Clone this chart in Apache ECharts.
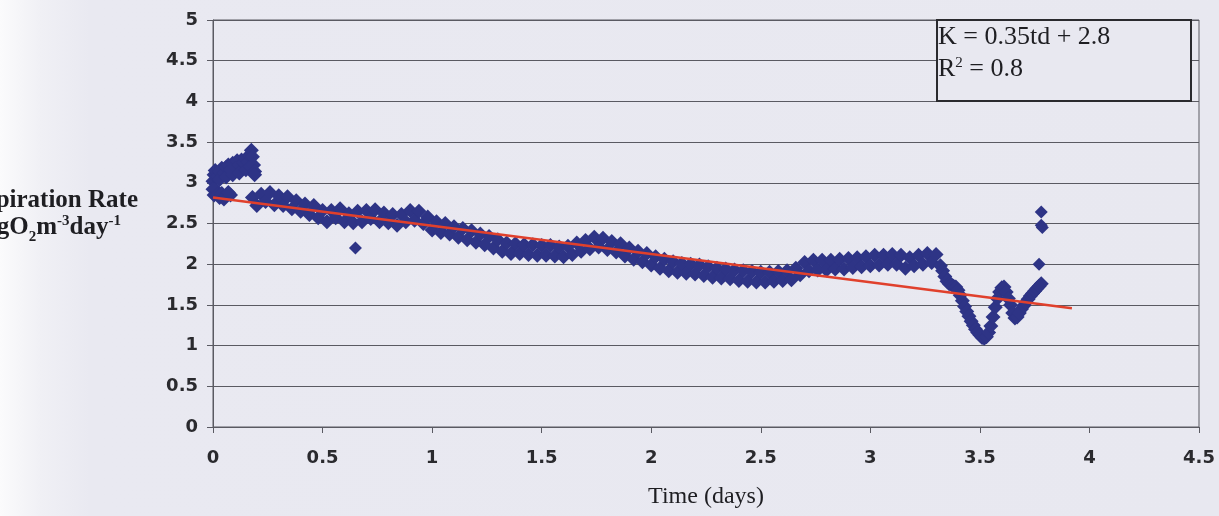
<!DOCTYPE html>
<html>
<head>
<meta charset="utf-8">
<script src="https://cdn.jsdelivr.net/npm/echarts@6/dist/echarts.min.js"></script>
<style>
html,body{margin:0;padding:0;width:1219px;height:516px;overflow:hidden;
background:linear-gradient(to right,#fbfbfc 0px,#f0f0f5 40px,#e9e9f1 90px,#e8e8f0 100%);}
#chart{width:1219px;height:516px;}
</style>
</head>
<body>
<div id="chart"></div>
<script>
// ---- data ----
var xTicks = [0, 0.5, 1, 1.5, 2, 2.5, 3, 3.5, 4, 4.5];
var yTicks = [0, 0.5, 1, 1.5, 2, 2.5, 3, 3.5, 4, 4.5, 5];

// early cluster (t, K)
var earlyPts = [
 [0.00,3.02],[0.00,2.92],[0.005,3.10],[0.005,2.85],[0.01,3.15],[0.01,2.92],[0.02,3.08],[0.02,2.86],
 [0.03,3.14],[0.03,2.82],[0.03,3.04],[0.04,3.18],[0.04,2.87],[0.05,3.12],[0.05,2.80],[0.06,3.19],
 [0.06,3.07],[0.06,2.84],[0.07,3.22],[0.07,2.88],[0.08,3.16],[0.08,2.85],[0.09,3.24],[0.09,3.10],
 [0.10,3.20],[0.11,3.27],[0.12,3.22],[0.12,3.12],[0.13,3.28],[0.14,3.25],[0.15,3.30],[0.15,3.16],
 [0.16,3.26],[0.17,3.33],[0.17,3.20],[0.175,3.40],[0.18,3.32],[0.185,3.22],[0.19,3.14],[0.19,3.10]
];

// main band (t, K)
var mainPts = [
 [0.18,2.82],[0.20,2.72],[0.22,2.86],[0.24,2.77],[0.26,2.88],[0.28,2.73],[0.30,2.84],[0.32,2.72],
 [0.34,2.83],[0.36,2.68],[0.38,2.78],[0.40,2.65],[0.42,2.74],[0.44,2.61],[0.46,2.72],[0.48,2.57],
 [0.50,2.66],[0.52,2.52],[0.54,2.66],[0.56,2.57],[0.58,2.68],[0.60,2.52],[0.62,2.62],[0.64,2.51],
 [0.66,2.65],[0.68,2.52],[0.70,2.66],[0.72,2.56],[0.74,2.67],[0.76,2.52],[0.78,2.63],[0.80,2.51],
 [0.82,2.61],[0.84,2.48],[0.86,2.61],[0.88,2.52],[0.90,2.66],[0.92,2.54],[0.94,2.65],[0.96,2.50],
 [0.98,2.58],[1.00,2.42],[1.02,2.52],[1.04,2.39],[1.06,2.50],[1.08,2.37],[1.10,2.46],[1.12,2.33],
 [1.14,2.44],[1.16,2.30],[1.18,2.41],[1.20,2.27],[1.22,2.37],[1.24,2.24],[1.26,2.34],[1.28,2.20],
 [1.30,2.30],[1.32,2.16],[1.34,2.26],[1.36,2.13],[1.38,2.25],[1.40,2.13],[1.42,2.24],[1.44,2.12],
 [1.46,2.24],[1.48,2.11],[1.50,2.23],[1.52,2.11],[1.54,2.23],[1.56,2.10],[1.58,2.21],[1.60,2.09],
 [1.62,2.22],[1.64,2.12],[1.66,2.26],[1.68,2.16],[1.70,2.29],[1.72,2.19],[1.74,2.33],[1.76,2.21],
 [1.78,2.32],[1.80,2.18],[1.82,2.28],[1.84,2.15],[1.86,2.25],[1.88,2.10],[1.90,2.20],[1.92,2.06],
 [1.94,2.16],[1.96,2.03],[1.98,2.13],[2.00,1.99],[2.02,2.09],[2.04,1.95],[2.06,2.06],[2.08,1.92],
 [2.10,2.03],[2.12,1.90],[2.14,2.01],[2.16,1.89],[2.18,2.00],[2.20,1.88],[2.22,1.99],[2.24,1.86],
 [2.26,1.97],[2.28,1.84],[2.30,1.95],[2.32,1.83],[2.34,1.94],[2.36,1.82],[2.38,1.93],[2.40,1.80],
 [2.42,1.92],[2.44,1.79],[2.46,1.91],[2.48,1.78],[2.50,1.90],[2.52,1.78],[2.54,1.90],[2.56,1.79],
 [2.58,1.91],[2.60,1.80],[2.62,1.92],[2.64,1.81],[2.66,1.95],[2.68,1.87],[2.70,2.02],[2.72,1.92],
 [2.74,2.05],[2.76,1.93],[2.78,2.05],[2.80,1.93],[2.82,2.05],[2.84,1.94],[2.86,2.06],[2.88,1.94],
 [2.90,2.07],[2.92,1.96],[2.94,2.08],[2.96,1.97],[2.98,2.09],[3.00,1.98],[3.02,2.11],[3.04,1.99],
 [3.06,2.11],[3.08,2.00],[3.10,2.12],[3.12,2.00],[3.14,2.11],[3.16,1.95],[3.18,2.08],[3.20,1.98],
 [3.22,2.11],[3.24,2.00],[3.26,2.13],[3.28,2.02],[3.30,2.12],[3.32,1.98]
];

// final dip (t, K)
var dipPts = [
 [3.33,1.92],[3.34,1.85],[3.35,1.79],[3.36,1.76],[3.37,1.75],[3.38,1.73],[3.39,1.72],[3.40,1.68],
 [3.41,1.62],[3.42,1.55],[3.43,1.48],[3.44,1.42],[3.45,1.36],[3.46,1.30],[3.47,1.25],[3.48,1.20],
 [3.49,1.16],[3.50,1.13],[3.51,1.10],[3.52,1.09],[3.53,1.11],[3.54,1.16],[3.55,1.24],[3.56,1.35],
 [3.57,1.47],[3.58,1.58],[3.59,1.66],[3.60,1.71],[3.61,1.72],[3.62,1.66],[3.63,1.58],[3.64,1.50],
 [3.65,1.40],[3.66,1.34],[3.67,1.35],[3.68,1.40],[3.69,1.45],[3.70,1.49],[3.71,1.53],[3.72,1.57],
 [3.73,1.61],[3.74,1.64],[3.75,1.67],[3.76,1.70],[3.77,1.73],[3.78,1.76]
];

// isolated points
var outlierPts = [[0.65,2.20],[3.77,2.00],[3.78,2.64],[3.78,2.48],[3.785,2.45]];

// fitted trend line endpoints
var trendT = [0, 3.92];
var trendK = [2.82, 1.46];

var eqLine1 = 'K = 0.35td + 2.8';
var eqR2 = '0.8';
var xTitle = 'Time (days)';
var yTitle1 = 'Respiration Rate';

// ---- chart ----
var chart = echarts.init(document.getElementById('chart'), null, {renderer: 'canvas'});
var dotColor = '#2e3486';
var axisColor = '#5a5a62';
var trendData = trendT.map(function (t, i) { return [t, trendK[i]]; });
var bandPts = earlyPts.concat(mainPts, dipPts);

chart.setOption({
  backgroundColor: 'transparent',
  animation: false,
  grid: {left: 213, right: 20, top: 20, bottom: 89, show: true,
         borderColor: axisColor, borderWidth: 1, backgroundColor: 'transparent'},
  xAxis: {
    type: 'value', min: xTicks[0], max: xTicks[xTicks.length - 1], interval: 0.5,
    name: xTitle, nameLocation: 'middle', nameGap: 58,
    nameTextStyle: {fontFamily: 'Liberation Serif', fontSize: 24, color: '#1e1e22'},
    axisLine: {show: true, onZero: false, lineStyle: {color: axisColor, width: 1}},
    axisTick: {show: true, length: 6, lineStyle: {color: axisColor}},
    axisLabel: {margin: 22, fontFamily: 'DejaVu Sans', fontWeight: 'bold', fontSize: 18, color: '#2a2a2e'},
    splitLine: {show: false}
  },
  yAxis: {
    type: 'value', min: yTicks[0], max: yTicks[yTicks.length - 1], interval: 0.5,
    axisLine: {show: true, onZero: false, lineStyle: {color: axisColor, width: 1}},
    axisTick: {show: true, length: 6, lineStyle: {color: axisColor}},
    axisLabel: {margin: 15, fontFamily: 'DejaVu Sans', fontWeight: 'bold', fontSize: 18, color: '#2a2a2e'},
    splitLine: {show: true, lineStyle: {color: axisColor, width: 1}}
  },
  series: [
    {type: 'scatter', data: bandPts, symbol: 'diamond', symbolSize: 15,
     itemStyle: {color: dotColor, opacity: 1}, z: 2, silent: true},
    {type: 'scatter', data: outlierPts, symbol: 'diamond', symbolSize: 13,
     itemStyle: {color: dotColor, opacity: 1}, z: 2, silent: true},
    {type: 'line', data: trendData, symbol: 'none', z: 3, silent: true,
     lineStyle: {color: '#e0402c', width: 2.5}}
  ],
  graphic: [
    {type: 'rect', shape: {x: 937, y: 20, width: 254, height: 81}, z: 10,
     style: {fill: '#e8e8f0', stroke: '#2a2a2e', lineWidth: 2}},
    {type: 'text', x: 938, y: 37, z: 11,
     style: {text: eqLine1, font: '26px "Liberation Serif"', fill: '#1e1e22', verticalAlign: 'middle'}},
    {type: 'text', x: 938, y: 69, z: 11,
     style: {text: '{a|R}{s|2}{a| = ' + eqR2 + '}', fill: '#1e1e22', verticalAlign: 'middle',
       rich: {a: {font: '26px "Liberation Serif"', fill: '#1e1e22', verticalAlign: 'bottom'},
              s: {font: '15px "Liberation Serif"', fill: '#1e1e22', verticalAlign: 'top', padding: [0,0,12,0]}}}},
    {type: 'text', x: 138, y: 201, z: 11,
     style: {text: yTitle1, font: 'bold 25px "Liberation Serif"', fill: '#1e1e22', align: 'right', verticalAlign: 'middle'}},
    {type: 'text', x: 121, y: 227, z: 11,
     style: {text: '{a|mgO}{b|2}{a|m}{c|-3}{a|day}{c|-1}', align: 'right', verticalAlign: 'middle', fill: '#1e1e22',
       rich: {a: {font: 'bold 25px "Liberation Serif"', fill: '#1e1e22', verticalAlign: 'bottom'},
              b: {font: 'bold 15px "Liberation Serif"', fill: '#1e1e22', verticalAlign: 'bottom', padding: [0,0,-4,0]},
              c: {font: 'bold 15px "Liberation Serif"', fill: '#1e1e22', verticalAlign: 'top', padding: [0,0,12,0]}}}}
  ]
});
</script>
</body>
</html>
